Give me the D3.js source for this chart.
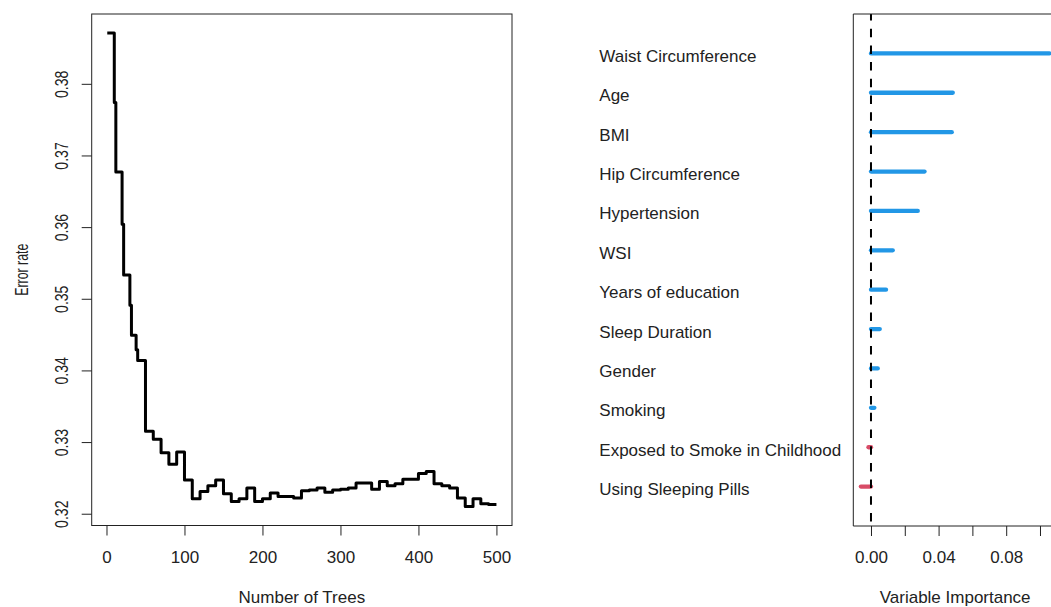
<!DOCTYPE html>
<html>
<head>
<meta charset="utf-8">
<script src="https://cdn.jsdelivr.net/npm/d3@7"></script>
<style>
  body { margin: 0; background: #fff; }
  svg { display: block; font-family: "Liberation Sans", Arial, sans-serif; }
  text { fill: #222; }
</style>
</head>
<body>
<div id="chart"></div>
<script>
// Error rate vs number of trees (step values)
const trees = [1, 10, 12, 20, 22, 30, 32, 38, 40, 50, 60, 70, 80, 90, 100,
  110, 120, 130, 140, 150, 160, 170, 180, 190, 200, 210, 220, 230, 240, 250,
  260, 270, 280, 290, 300, 310, 320, 330, 340, 350, 360, 370, 380, 390, 400,
  410, 420, 430, 440, 450, 460, 470, 480, 490, 500];
const errorRate = [0.3871, 0.3774, 0.3677, 0.3604, 0.3533, 0.3491, 0.3449, 0.3429, 0.3414, 0.3315,
  0.3304, 0.3285, 0.3269, 0.3286, 0.3247, 0.3221, 0.3231, 0.3239, 0.3247, 0.3228,
  0.3217, 0.3221, 0.3236, 0.3217, 0.3221, 0.3229, 0.3224, 0.3224, 0.3222, 0.3232,
  0.3233, 0.3236, 0.3230, 0.3233, 0.3234, 0.3236, 0.3243, 0.3243, 0.3234, 0.3245,
  0.3239, 0.3242, 0.3248, 0.3248, 0.3256, 0.3259, 0.3242, 0.3239, 0.3236, 0.3222,
  0.3210, 0.3221, 0.3214, 0.3213, 0.3213];
const treeTicks = [0, 100, 200, 300, 400, 500];
const errorTicks = [0.32, 0.33, 0.34, 0.35, 0.36, 0.37, 0.38];

// Variable importance
const variables = ["Waist Circumference", "Age", "BMI", "Hip Circumference",
  "Hypertension", "WSI", "Years of education", "Sleep Duration", "Gender",
  "Smoking", "Exposed to Smoke in Childhood", "Using Sleeping Pills"];
const importance = [0.1056, 0.0484, 0.0478, 0.0317, 0.0277, 0.0129, 0.0089,
  0.0052, 0.0040, 0.0020, -0.0015, -0.0060];
const vimpTicks = [0, 0.02, 0.04, 0.06, 0.08, 0.10];
const vimpTickLabels = ["0.00", "", "0.04", "", "0.08", ""];

const blue = "#2297E6";
const red = "#D84C67";

/*******************************/
/*    Declare the constants    */
/*******************************/
const width = 1051;
const height = 607;
const fontSize = 17;
const left = {x0: 91.7, x1: 512, y0: 14, y1: 525.5};
const right = {x0: 853.3, x1: 1057, y0: 14, y1: 526};

// R style axis limits: data range plus 4% on each side
const pad = ([a, b]) => [a - 0.04 * (b - a), b + 0.04 * (b - a)];

const svg = d3.select("#chart")
  .append("svg")
    .attr("width", width)
    .attr("height", height);

/******************************/
/*    Left: error rate plot   */
/******************************/
const xTrees = d3.scaleLinear()
  .domain(pad(d3.extent(trees)))
  .range([left.x0, left.x1]);
const yError = d3.scaleLinear()
  .domain(pad(d3.extent(errorRate)))
  .range([left.y1, left.y0]);

const errorData = trees.map((t, i) => ({tree: t, err: errorRate[i]}));

svg
  .append("path")
    .datum(errorData)
    .attr("fill", "none")
    .attr("stroke", "#000")
    .attr("stroke-width", 3)
    .attr("stroke-linejoin", "round")
    .attr("d", d3.line()
      .x(d => xTrees(d.tree))
      .y(d => yError(d.err))
      .curve(d3.curveStepAfter));

svg
  .append("rect")
    .attr("x", left.x0)
    .attr("y", left.y0)
    .attr("width", left.x1 - left.x0)
    .attr("height", left.y1 - left.y0)
    .attr("fill", "none")
    .attr("stroke", "#222")
    .attr("stroke-width", 1);

const bottomAxis = d3.axisBottom(xTrees)
  .tickValues(treeTicks)
  .tickFormat(d3.format("d"))
  .tickSize(10)
  .tickPadding(15.4);
const xAxisG = svg
  .append("g")
    .attr("transform", `translate(0, ${left.y1})`)
    .call(bottomAxis);
xAxisG.select(".domain").remove();

const leftAxis = d3.axisLeft(yError)
  .tickValues(errorTicks)
  .tickFormat(d3.format(".2f"))
  .tickSize(10);
const yAxisG = svg
  .append("g")
    .attr("transform", `translate(${left.x0}, 0)`)
    .call(leftAxis);
yAxisG.select(".domain").remove();

svg
  .append("text")
    .attr("class", "xlab")
    .text("Number of Trees")
    .attr("text-anchor", "middle")
    .attr("x", (left.x0 + left.x1) / 2)
    .attr("y", 603);

/***********************************/
/*    Right: variable importance   */
/***********************************/
const xVimp = d3.scaleLinear()
  .domain(pad(d3.extent(importance)))
  .range([right.x0, right.x1]);
const yVar = d3.scalePoint()
  .domain(variables)
  .range([right.y0, right.y1])
  .padding(1);

const vimpData = variables.map((v, i) => ({name: v, value: importance[i]}));

svg
  .append("g")
  .selectAll("line")
  .data(vimpData)
  .join("line")
    .attr("x1", xVimp(0))
    .attr("x2", d => xVimp(d.value))
    .attr("y1", d => yVar(d.name))
    .attr("y2", d => yVar(d.name))
    .attr("stroke", d => d.value >= 0 ? blue : red)
    .attr("stroke-width", 4.3)
    .attr("stroke-linecap", "round");

svg
  .append("line")
    .attr("x1", xVimp(0))
    .attr("x2", xVimp(0))
    .attr("y1", right.y0)
    .attr("y2", right.y1)
    .attr("stroke", "#000")
    .attr("stroke-width", 2)
    .attr("stroke-dasharray", "8.5,8.2")
    .attr("stroke-dashoffset", 2);

svg
  .append("path")
    .attr("d", `M${right.x1},${right.y0}H${right.x0}V${right.y1}H${right.x1}`)
    .attr("fill", "none")
    .attr("stroke", "#222")
    .attr("stroke-width", 1);

const vimpAxis = d3.axisBottom(xVimp)
  .tickValues(vimpTicks)
  .tickFormat((d, i) => vimpTickLabels[i])
  .tickSize(10)
  .tickPadding(15.4);
const vimpAxisG = svg
  .append("g")
    .attr("transform", `translate(0, ${right.y1})`)
    .call(vimpAxis);
vimpAxisG.select(".domain").remove();

svg
  .append("g")
  .selectAll("text")
  .data(variables)
  .join("text")
    .text(d => d)
    .attr("x", 599.3)
    .attr("y", d => yVar(d) + 8.5);

svg
  .append("text")
    .text("Variable Importance")
    .attr("text-anchor", "middle")
    .attr("x", (right.x0 + right.x1) / 2)
    .attr("y", 603);

// common text styling
svg.selectAll("text")
  .attr("font-size", fontSize)
  .attr("font-family", "'Liberation Sans', Arial, sans-serif")
  .attr("fill", "#222");
svg.selectAll(".tick line")
  .attr("stroke", "#222");

/*************************************/
/*    Rotated texts of the y axis    */
/*************************************/
// the reference draws them larger across and narrower along the text
yAxisG.selectAll(".tick text")
  .attr("x", null)
  .attr("dy", null)
  .attr("font-size", 19)
  .attr("text-anchor", "middle")
  .attr("transform", "translate(-23.7, 0) rotate(-90) scale(0.74, 1)");

svg
  .append("text")
    .text("Error rate")
    .attr("text-anchor", "middle")
    .attr("font-size", 19)
    .attr("font-family", "'Liberation Sans', Arial, sans-serif")
    .attr("fill", "#222")
    .attr("transform", `translate(28, ${(left.y0 + left.y1) / 2}) rotate(-90) scale(0.65, 1)`);
</script>
</body>
</html>
